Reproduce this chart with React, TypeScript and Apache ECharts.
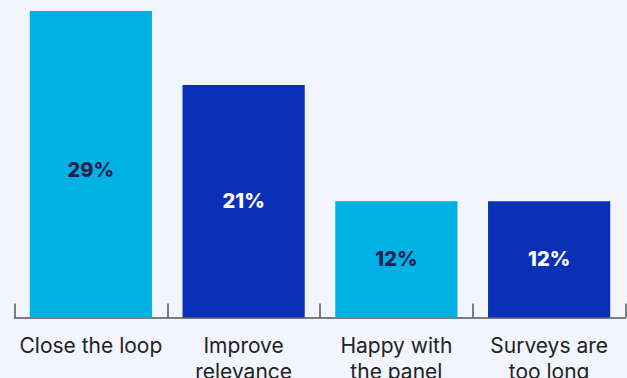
import React, { useEffect, useRef } from "react";
import * as echarts from "echarts";

const categories = ["Close the loop", "Improve\nrelevance", "Happy with\nthe panel", "Surveys are\ntoo long"];
const values = [29, 22, 11, 11];
const valueLabels = ["29%", "21%", "12%", "12%"];
const barColors = ["#00b2e3", "#0b30b8", "#00b2e3", "#0b30b8"];
const labelColors = ["#231d52", "#ffffff", "#231d52", "#ffffff"];
const labelOffsets = [[0, 6], [0, 0], [0, 0], [0, 0]];

export default function App() {
  const ref = useRef<HTMLDivElement>(null);
  useEffect(() => {
    if (!ref.current) return;
    const chart = echarts.init(ref.current, undefined, { renderer: "svg" });
    chart.setOption({
      animation: false,
      backgroundColor: "#f2f5fd",
      grid: { left: 14.5, right: 1.5, top: 11, bottom: 60.5, containLabel: false, outerBoundsMode: "none" },
      xAxis: {
        type: "category",
        data: categories,
        axisLine: { lineStyle: { color: "#555555", width: 1.5 } },
        axisTick: { show: true, inside: true, length: 14, lineStyle: { color: "#555555", width: 1.5 } },
        axisLabel: {
          color: "#222222",
          fontFamily: "Inter",
          fontSize: 21,
          lineHeight: 26,
          margin: 15,
          interval: 0,
        },
      },
      yAxis: {
        type: "value",
        min: 0,
        max: 29,
        show: false,
        splitLine: { show: false },
      },
      series: [
        {
          type: "bar",
          barCategoryGap: "20%",
          data: values.map((v, i) => ({
            value: v,
            itemStyle: { color: barColors[i] },
            label: {
              show: true,
              position: "inside",
              offset: labelOffsets[i],
              formatter: valueLabels[i],
              color: labelColors[i],
              fontFamily: "Inter",
              fontWeight: 800,
              fontSize: 20,
            },
          })),
        },
      ],
    });
    return () => chart.dispose();
  }, []);
  return <div ref={ref} style={{ position: "fixed", left: 0, top: 0, width: 627, height: 378 }} />;
}
